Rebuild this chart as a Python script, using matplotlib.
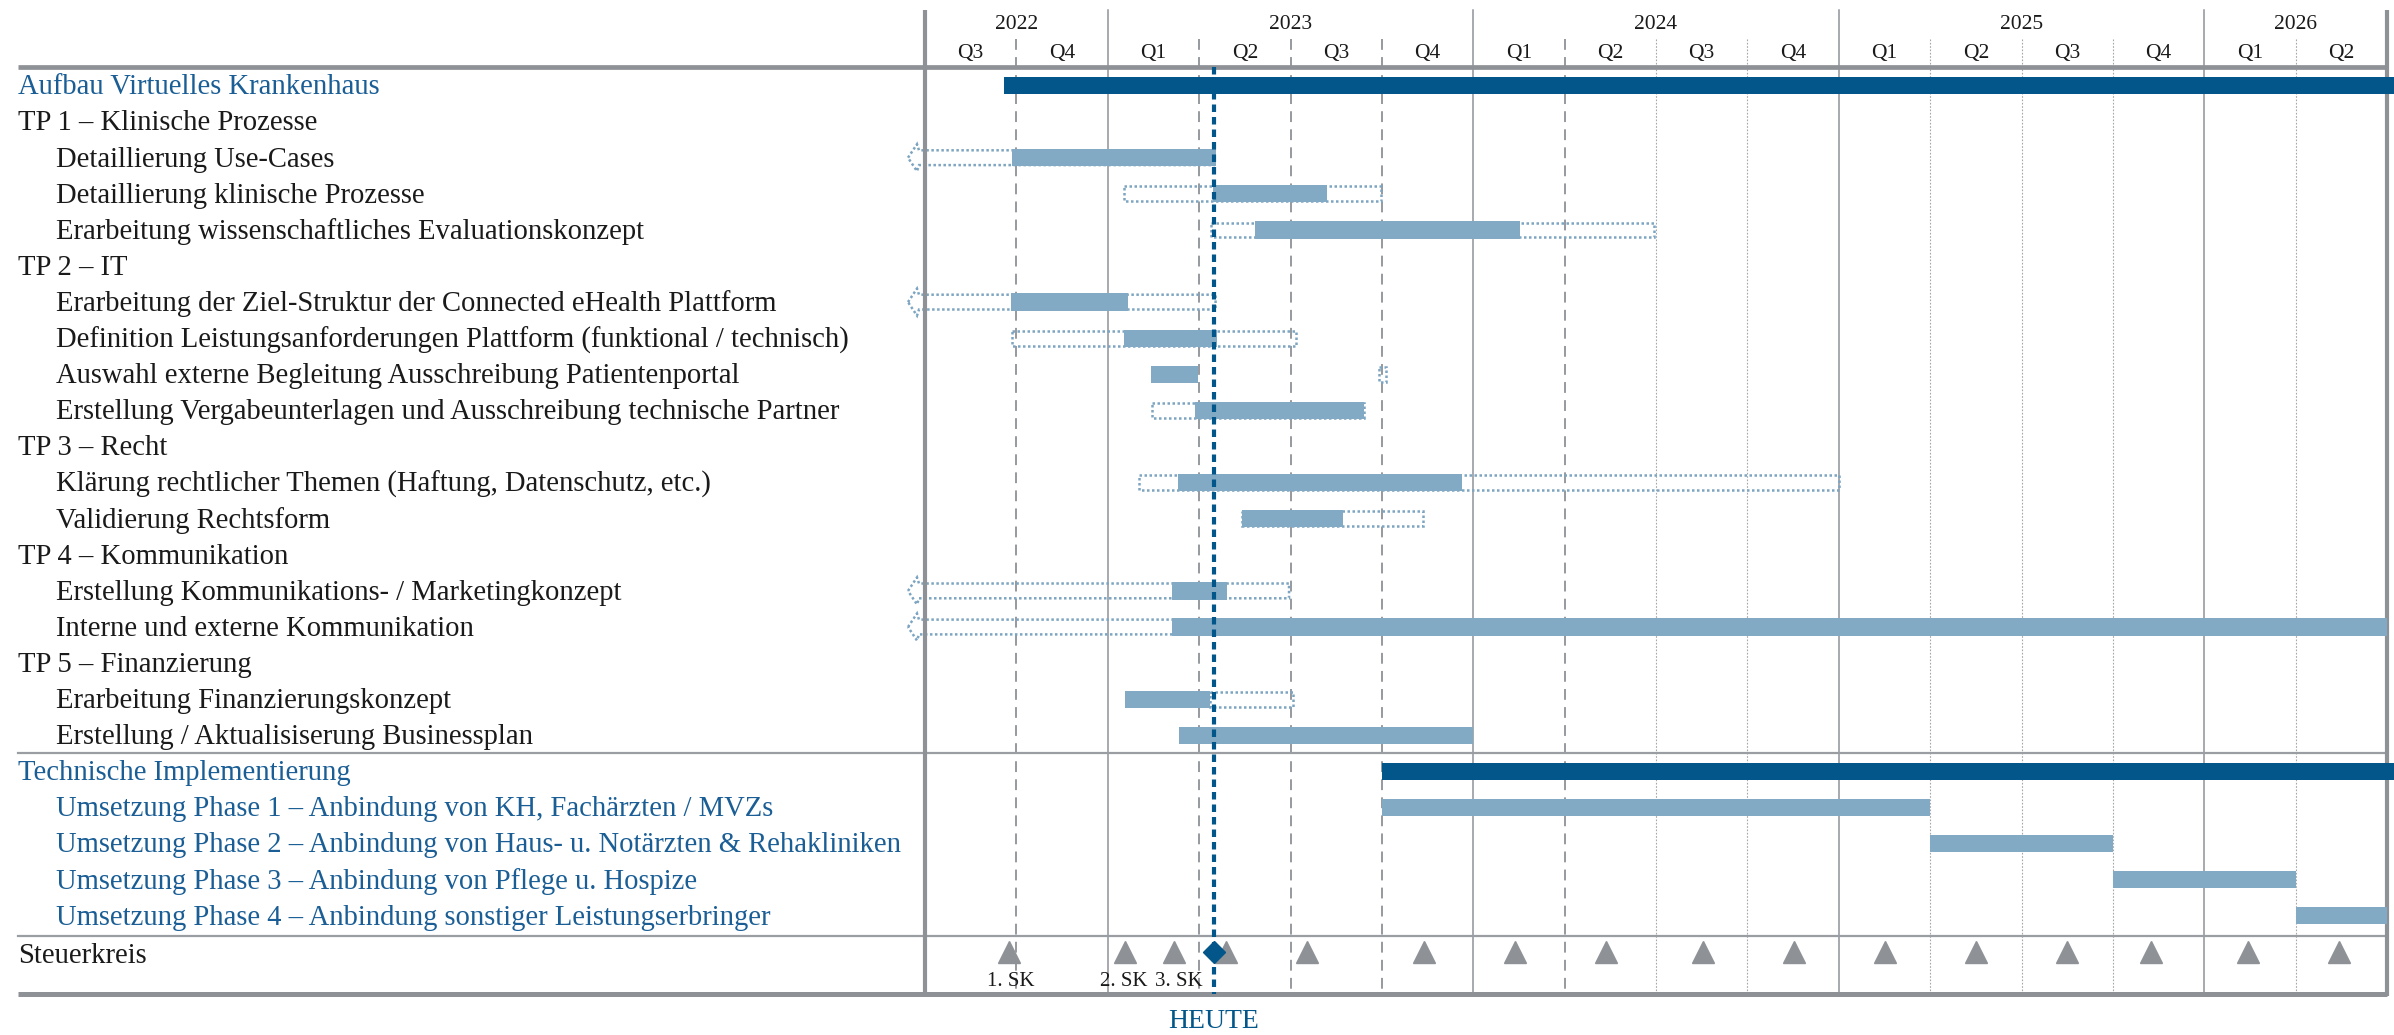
import numpy as np
import matplotlib
matplotlib.use("Agg")
import matplotlib.pyplot as plt
from matplotlib.patches import Polygon, Rectangle
from matplotlib.transforms import blended_transform_factory

plt.rcParams["font.family"] = ["Liberation Serif", "DejaVu Serif"]

# --- rows -------------------------------------------------------------
row_labels = [
    "Aufbau Virtuelles Krankenhaus",
    "TP 1 – Klinische Prozesse",
    "Detaillierung Use-Cases",
    "Detaillierung klinische Prozesse",
    "Erarbeitung wissenschaftliches Evaluationskonzept",
    "TP 2 – IT",
    "Erarbeitung der Ziel-Struktur der Connected eHealth Plattform",
    "Definition Leistungsanforderungen Plattform (funktional / technisch)",
    "Auswahl externe Begleitung Ausschreibung Patientenportal",
    "Erstellung Vergabeunterlagen und Ausschreibung technische Partner",
    "TP 3 – Recht",
    "Klärung rechtlicher Themen (Haftung, Datenschutz, etc.)",
    "Validierung Rechtsform",
    "TP 4 – Kommunikation",
    "Erstellung Kommunikations- / Marketingkonzept",
    "Interne und externe Kommunikation",
    "TP 5 – Finanzierung",
    "Erarbeitung Finanzierungskonzept",
    "Erstellung / Aktualisiserung Businessplan",
    "Technische Implementierung",
    "Umsetzung Phase 1 – Anbindung von KH, Fachärzten / MVZs",
    "Umsetzung Phase 2 – Anbindung von Haus- u. Notärzten & Rehakliniken",
    "Umsetzung Phase 3 – Anbindung von Pflege u. Hospize",
    "Umsetzung Phase 4 – Anbindung sonstiger Leistungserbringer",
    "Steuerkreis",
]
row_indent = [0, 0, 1, 1, 1, 0, 1, 1, 1, 1, 0, 1, 1, 0, 1, 1, 0, 1, 1, 0, 1, 1, 1, 1, 0]
row_blue = [1, 0, 0, 0, 0, 0, 0, 0, 0, 0, 0, 0, 0, 0, 0, 0, 0, 0, 0, 1, 1, 1, 1, 1, 0]

# --- time data (decimal years) ----------------------------------------
summary_rows = [0, 19]
summary_start = [2022.715, 2023.75]
summary_end = [2026.53, 2026.53]

task_rows = [2, 3, 4, 6, 7, 8, 9, 11, 12, 14, 15, 17, 18, 20, 21, 22, 23]
task_start = [2022.737, 2023.287, 2023.403, 2022.736, 2023.045, 2023.119, 2023.239,
              2023.193, 2023.366, 2023.177, 2023.177, 2023.047, 2023.196,
              2023.75, 2025.25, 2025.75, 2026.25]
task_end = [2023.295, 2023.599, 2024.127, 2023.056, 2023.298, 2023.247, 2023.700,
            2023.970, 2023.643, 2023.327, 2026.5, 2023.280, 2024.000,
            2025.25, 2025.75, 2026.25, 2026.5]

# planned dates; None = planned start lies before the visible range
plan_rows = [2, 3, 4, 6, 7, 8, 9, 11, 12, 14, 15, 17]
plan_start = [None, 2023.045, 2023.283, None, 2022.737, 2023.742, 2023.12,
              2023.086, 2023.366, None, None, 2023.28]
plan_end = [2023.29, 2023.747, 2024.494, 2023.295, 2023.515, 2023.760, 2023.70,
            2025.0, 2023.863, 2023.496, 2026.5, 2023.506]

sk_dates = [2022.729, 2023.048, 2023.181, 2023.323, 2023.545, 2023.866, 2024.115,
            2024.363, 2024.629, 2024.878, 2025.127, 2025.375, 2025.624, 2025.854,
            2026.120, 2026.368]
sk_labels = ["1. SK", "2. SK", "3. SK"]
sk_label_nudge = [2, -2, 5]   # px, keeps neighbouring labels apart
today = 2023.29

years = [2022, 2023, 2024, 2025, 2026]
year_from = [2022.5, 2023.0, 2024.0, 2025.0, 2026.0]
year_to = [2023.0, 2024.0, 2025.0, 2026.0, 2026.5]
quarter_labels = ["Q3", "Q4"] + ["Q1", "Q2", "Q3", "Q4"] * 3 + ["Q1", "Q2"]

# --- styling ----------------------------------------------------------
NAVY = "#02568A"
LIGHT = "#82AAC4"
OUTLINE = "#7DA5C1"
GRID = "#8E9297"
TEXT_BLUE = "#1A5E95"
TEXT = "#1A1A1A"

W, H = 2394, 1035
X0, X1 = 925, 2387          # pixel range of the timeline
ROW0, ROW_H = 85.5, 36.1     # pixel centre of first row, row pitch


def prow(px):
    return (px - ROW0) / ROW_H


fig = plt.figure(figsize=(W / 100, H / 100), dpi=100)
ax = fig.add_axes([X0 / W, 0, (X1 - X0) / W, 1])
ax.set_xlim(2022.5, 2026.5)
ax.set_ylim(prow(H), prow(0))
ax.axis("off")
tr = blended_transform_factory(fig.transFigure, ax.transData)
px_year = (X1 - X0) / 4.0

# vertical grid: years solid, quarters dashed (near term) / dotted (later)
top_y, head_y, bot_y = prow(10), prow(67), prow(994)
for y in years[1:]:
    ax.plot([y, y], [top_y, bot_y], color=GRID, lw=1.1, zorder=1)
quarters = np.arange(2022.75, 2026.5, 0.25)
for q in quarters:
    if abs(q - round(q)) < 1e-6:
        continue
    if q <= 2024.26:
        ax.plot([q, q], [prow(39), bot_y], color=GRID, lw=1.3,
                ls=(0, (6, 4)), zorder=1)
    else:
        ax.plot([q, q], [prow(39), bot_y], color="#A4A7AB", lw=0.8,
                ls=(0, (1.5, 1.5)), zorder=1)

# header text
for yr, a, b in zip(years, year_from, year_to):
    ax.text((a + b) / 2, prow(24), str(yr), ha="center", va="center",
            fontsize=15.5, color=TEXT)
for i, ql in enumerate(quarter_labels):
    ax.text(2022.5 + 0.25 * i + 0.125, prow(53), ql, ha="center", va="center",
            fontsize=15.5, color=TEXT)

# frame lines
x_left, x_right = 18 / W, X1 / W
ax.plot([x_left, x_right], [prow(67), prow(67)], transform=tr, color=GRID,
        lw=3.4, clip_on=False, zorder=3, solid_capstyle="butt")
ax.plot([x_left, x_right], [prow(994), prow(994)], transform=tr, color=GRID,
        lw=3.6, clip_on=False, zorder=3, solid_capstyle="butt")
for py in (753, 936):
    ax.plot([x_left, x_right], [prow(py), prow(py)], transform=tr, color="#9A9DA1",
            lw=1.6, clip_on=False, zorder=3)
for xv in (2022.5, 2026.5):
    ax.plot([xv, xv], [prow(10), prow(996)], color=GRID, lw=3.0,
            clip_on=False, zorder=3, solid_capstyle="butt")

# row labels
for i, (lab, ind, blue) in enumerate(zip(row_labels, row_indent, row_blue)):
    x = (56 if ind else 18) / W
    y = i + 0.05 if i < 24 else i + 0.12
    ax.text(x, y, lab, transform=tr, ha="left", va="center",
            fontsize=20.6, color=TEXT_BLUE if blue else TEXT)

# planned (baseline) outlines
h_out = 14.8 / ROW_H
head_h = 27 / ROW_H
for r, s, e in zip(plan_rows, plan_start, plan_end):
    if s is None:
        tip = 2022.5 - 17 / px_year
        base = 2022.5 - 8 / px_year
        pts = [(tip, r), (base, r - head_h / 2), (base + 2 / px_year, r - h_out / 2),
               (e, r - h_out / 2), (e, r + h_out / 2), (base + 2 / px_year, r + h_out / 2),
               (base, r + head_h / 2)]
        ax.add_patch(Polygon(pts, closed=True, fill=False, edgecolor=OUTLINE,
                             lw=1.8, ls=(0, (1, 1)), clip_on=False, zorder=2))
    else:
        ax.add_patch(Rectangle((s, r - h_out / 2), e - s, h_out, fill=False,
                               edgecolor=OUTLINE, lw=1.8, ls=(0, (1, 1)),
                               clip_on=False, zorder=2))

# actual bars
bar_h = 17.3 / ROW_H
ax.barh(task_rows, np.array(task_end) - np.array(task_start), left=task_start,
        height=bar_h, color=LIGHT, edgecolor="none", zorder=4, clip_on=False)
ax.barh(summary_rows, np.array(summary_end) - np.array(summary_start),
        left=summary_start, height=bar_h, color=NAVY, edgecolor="none",
        zorder=4, clip_on=False)

# steering committee
sk_row = 24
ax.plot(sk_dates, [sk_row] * len(sk_dates), ls="none", marker="^", ms=16,
        color=GRID, zorder=5)
for d, lab, dx in zip(sk_dates, sk_labels, sk_label_nudge):
    ax.text(d + dx / px_year, prow(981), lab, ha="center", va="center",
            fontsize=15, color=TEXT)

# today line
ax.plot([today, today], [head_y, bot_y], color=NAVY, lw=3.0,
        ls=(0, (1.8, 1.2)), zorder=6)
ax.plot([today], [sk_row], marker="D", ms=11.5, color=NAVY, zorder=7)
ax.text(today, prow(1021), "HEUTE", ha="center", va="center", fontsize=20,
        color=NAVY)

fig.savefig("out.png", dpi=100)
